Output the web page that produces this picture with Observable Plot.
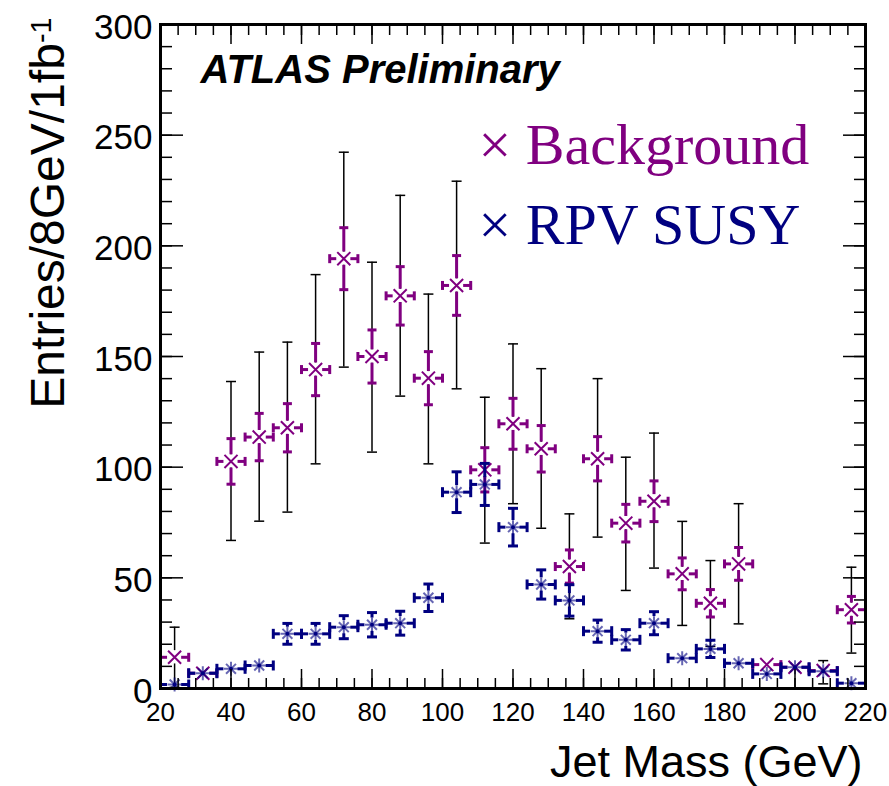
<!DOCTYPE html>
<html>
<head>
<meta charset="utf-8">
<script src="https://cdn.jsdelivr.net/npm/d3@7"></script>
<script src="https://cdn.jsdelivr.net/npm/@observablehq/plot@0.6"></script>
<style>
  html, body { margin: 0; padding: 0; background: #fff; }
  #chart svg { display: block; }
</style>
</head>
<body>
<div id="chart"></div>
<script>
// ---- Data ----
const mass = [24, 32, 40, 48, 56, 64, 72, 80, 88, 96, 104, 112, 120, 128, 136, 144, 152, 160, 168, 176, 184, 192, 200, 208, 216];
const binWidth = 8;

// Background: value, statistical error (magenta), total band low/high (black)
const bkg      = [14.1, 6.9, 102.6, 113.6, 117.8, 144.1, 194.2, 150.0, 177.4, 140.2, 182.1, 98.8, 119.6, 108.3, 55.1, 103.8, 74.7, 84.6, 51.8, 38.5, 56.3, 10.8, 9.6, 8.1, 35.6];
const bkgStat  = [0, 0, 10.3, 10.7, 10.9, 11.8, 14.0, 12.0, 13.2, 12.0, 13.5, 10.0, 11.5, 10.5, 7.5, 10.0, 8.5, 9.2, 7.2, 6.2, 7.4, 0, 0, 0, 6.0];
const bkgLow   = [0.5, null, 66.9, 75.6, 79.7, 101.5, 145.2, 106.8, 132.1, 101.5, 135.4, 65.7, 83.5, 72.4, 31.5, 68.4, 44.3, 54.4, 28.5, 19.0, 29.2, null, null, 2.1, 16.0];
const bkgHigh  = [27.7, null, 138.7, 152.0, 156.5, 187.0, 242.3, 192.6, 222.8, 178.2, 229.2, 131.6, 155.7, 144.5, 78.9, 140.0, 104.5, 115.4, 75.5, 57.8, 83.5, null, null, 12.6, 54.8];

// RPV SUSY signal: value and statistical error
const sig      = [1.8, 6.9, 8.9, 10.4, 24.7, 24.7, 27.7, 28.8, 29.5, 41.0, 88.7, 92.2, 72.9, 47.0, 39.8, 25.9, 22.0, 29.5, 13.7, 17.9, 11.4, 6.6, 9.6, 7.8, 2.4];
const sigStat  = [0, 0, 0, 0, 4.7, 4.7, 5.2, 5.5, 5.4, 6.2, 9.2, 9.5, 8.5, 6.6, 7.1, 5.0, 4.6, 5.2, 0, 3.9, 0, 0, 0, 0, 0];

const legendLabels = ["× Background", "× RPV SUSY"];
const xTicksMajor = d3.range(20, 221, 20);
const xTicksMinor = d3.range(20, 221, 5);
const yTicksMajor = d3.range(0, 301, 50);
const yTicksMinor = d3.range(0, 301, 10);

// ---- Styles ----
const MAG = "#800080";
const NAVY = "#000080";
const gapX = 2;   // GeV gap around marker
const gapY = 3;   // entries gap around marker
const half = binWidth / 2;

const hcap = {draw(ctx, size) { const r = Math.sqrt(size / Math.PI); ctx.moveTo(-r, 0); ctx.lineTo(r, 0); }};
const vcap = {draw(ctx, size) { const r = Math.sqrt(size / Math.PI); ctx.moveTo(0, -r); ctx.lineTo(0, r); }};
const star8 = {draw(ctx, size) {
  const r = Math.sqrt(size / Math.PI), d = r * Math.SQRT1_2;
  ctx.moveTo(-r, 0); ctx.lineTo(r, 0); ctx.moveTo(0, -r); ctx.lineTo(0, r);
  ctx.moveTo(-d, -d); ctx.lineTo(d, d); ctx.moveTo(-d, d); ctx.lineTo(d, -d);
}};

const bkgRows = mass.map((m, i) => ({m, v: bkg[i], e: bkgStat[i], lo: bkgLow[i], hi: bkgHigh[i]}));
const sigRows = mass.map((m, i) => ({m, v: sig[i], e: sigStat[i]}));
const bandRows = bkgRows.filter(d => d.hi != null);

function seriesMarks(rows, color, capR) {
  const withErr = rows.filter(d => d.e > gapY);
  const lw = {stroke: color, strokeWidth: 3, strokeLinecap: "butt"};
  return [
    Plot.ruleY(rows, {y: "v", x1: d => d.m - half, x2: d => d.m - gapX, ...lw}),
    Plot.ruleY(rows, {y: "v", x1: d => d.m + gapX, x2: d => d.m + half, ...lw}),
    Plot.dot(rows, {x: d => d.m - half, y: "v", symbol: vcap, r: capR, fill: "none", ...lw}),
    Plot.dot(rows, {x: d => d.m + half, y: "v", symbol: vcap, r: capR, fill: "none", ...lw}),
    Plot.ruleX(withErr, {x: "m", y1: d => d.v + gapY, y2: d => d.v + d.e, ...lw}),
    Plot.ruleX(withErr, {x: "m", y1: d => d.v - gapY, y2: d => d.v - d.e, ...lw}),
    Plot.dot(withErr, {x: "m", y: d => d.v + d.e, symbol: hcap, r: capR, fill: "none", ...lw}),
    Plot.dot(withErr, {x: "m", y: d => d.v - d.e, symbol: hcap, r: capR, fill: "none", ...lw})
  ];
}

const plot = Plot.plot({
  width: 889,
  height: 786,
  marginLeft: 160,
  marginRight: 24,
  marginTop: 24,
  marginBottom: 98,
  style: {fontFamily: "'Liberation Sans', Arial, Helvetica, sans-serif", background: "#fff", color: "#000"},
  x: {domain: [20, 220], label: null},
  y: {domain: [0, 300], label: null},
  marks: [
    // black total error bars
    Plot.ruleX(bandRows, {x: "m", y1: "hi", y2: d => d.v + gapY, stroke: "#000", strokeWidth: 1.5}),
    Plot.ruleX(bandRows, {x: "m", y1: d => d.v - gapY, y2: "lo", stroke: "#000", strokeWidth: 1.5}),
    Plot.dot(bandRows, {x: "m", y: "hi", symbol: hcap, r: 5, stroke: "#000", strokeWidth: 1.5, fill: "none"}),
    Plot.dot(bandRows, {x: "m", y: "lo", symbol: hcap, r: 5, stroke: "#000", strokeWidth: 1.5, fill: "none"}),
    // background
    ...seriesMarks(bkgRows, MAG, 4.5),
    Plot.dot(bkgRows, {x: "m", y: "v", symbol: "times", r: 6, stroke: MAG, strokeWidth: 2}),
    // signal
    ...seriesMarks(sigRows, NAVY, 5),
    Plot.dot(sigRows, {x: "m", y: "v", symbol: star8, r: 7, stroke: NAVY, strokeOpacity: 0.6, strokeWidth: 2, fill: "none"}),
    Plot.dot(sigRows, {x: "m", y: "v", r: 2, fill: NAVY}),
    // axes: inward ticks on all four sides
    Plot.axisX({anchor: "bottom", ticks: xTicksMinor, tickSize: -10, fill: "none", label: null, strokeWidth: 1.5}),
    Plot.axisX({anchor: "bottom", ticks: xTicksMajor, tickSize: -19, fill: "none", label: null, strokeWidth: 1.5}),
    Plot.axisX({anchor: "top", ticks: xTicksMinor, tickSize: -10, fill: "none", label: null, strokeWidth: 1.5}),
    Plot.axisX({anchor: "top", ticks: xTicksMajor, tickSize: -19, fill: "none", label: null, strokeWidth: 1.5}),
    Plot.axisY({anchor: "left", ticks: yTicksMinor, tickSize: -12, fill: "none", label: null, strokeWidth: 1.5}),
    Plot.axisY({anchor: "left", ticks: yTicksMajor, tickSize: -23, fill: "none", label: null, strokeWidth: 1.5}),
    Plot.axisY({anchor: "right", ticks: yTicksMinor, tickSize: -12, fill: "none", label: null, strokeWidth: 1.5}),
    Plot.axisY({anchor: "right", ticks: yTicksMajor, tickSize: -23, fill: "none", label: null, strokeWidth: 1.5}),
    // tick labels
    Plot.axisX({anchor: "bottom", ticks: xTicksMajor, tickSize: 0, tickPadding: 14, fontSize: 26, label: null, tickFormat: d3.format("d")}),
    Plot.axisY({anchor: "left", ticks: yTicksMajor, tickSize: 0, tickPadding: 8, fontSize: 35, dy: 3, label: null, tickFormat: d3.format("d")}),
    Plot.frame({stroke: "#000", strokeWidth: 3}),
    // axis titles
    Plot.text(["Jet Mass (GeV)"], {frameAnchor: "bottom-right", textAnchor: "end", lineAnchor: "bottom", dx: -3, dy: 88, fontSize: 45}),
    Plot.text(["Entries/8GeV/1fb"], {frameAnchor: "top-left", textAnchor: "end", lineAnchor: "bottom", rotate: -90, dx: -97, dy: -7, fontSize: 48}),
    // annotations
    Plot.text(["ATLAS Preliminary"], {frameAnchor: "top-left", textAnchor: "start", lineAnchor: "bottom", dx: 40, dy: 58, fontSize: 40, fontWeight: "bold", fontStyle: "italic"}),
    Plot.text([legendLabels[0]], {frameAnchor: "top-left", textAnchor: "start", lineAnchor: "bottom", dx: 318, dy: 139, fontSize: 58, fill: MAG, fontFamily: "'Liberation Serif', 'Times New Roman', serif"}),
    Plot.text([legendLabels[1]], {frameAnchor: "top-left", textAnchor: "start", lineAnchor: "bottom", dx: 318, dy: 219, fontSize: 58, fill: NAVY, fontFamily: "'Liberation Serif', 'Times New Roman', serif"})
  ]
});

// superscript on the y-axis title
d3.select(plot).selectAll("text")
  .filter(function() { return this.textContent === "Entries/8GeV/1fb"; })
  .append("tspan").attr("dy", "-0.45em").attr("font-size", "0.6em").text("-1");

document.getElementById("chart").appendChild(plot);
</script>
</body>
</html>
